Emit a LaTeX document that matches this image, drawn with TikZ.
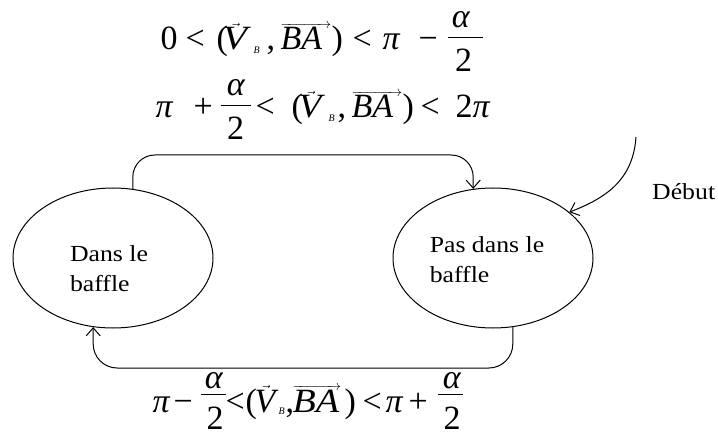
\documentclass[tikz,border=0pt]{standalone}
\usepackage{fontspec}
\setmainfont{Liberation Serif}
\newfontfamily\lblfont[FakeStretch=1.12]{Liberation Serif}
\usetikzlibrary{shapes.geometric,arrows.meta}
\newcommand\eqf{\fontsize{34}{34}\selectfont}
\newcommand\gl[3]{\rlap{\hskip#1pt\raisebox{#2pt}{#3}}}
\newcommand\E[1]{{\eqf #1}}
\newcommand\EI[1]{{\eqf\itshape #1}}
\newcommand\EC[1]{\makebox[0pt]{\eqf #1}}
\newcommand\ECI[1]{\makebox[0pt]{\eqf\itshape #1}}
\newcommand\Vv[1]{{\fontsize{18}{18}\selectfont$\vec{\mbox{\eqf\itshape\scalebox{#1}[1]{V}}}$}}
\newcommand\BAv[2]{{\fontsize{14}{14}\selectfont$\overrightarrow{\mbox{\eqf\itshape\scalebox{#2}[1]{BA}}\kern#1pt}$}}
\newcommand\Bs{{\fontsize{10}{10}\selectfont\itshape B}}
\newcommand\frl[1]{\rule{#1pt}{1.1pt}}
\begin{document}
\begin{tikzpicture}[x=1pt,y=-1pt,
  state/.style={draw, ellipse, line width=1pt, minimum width=200pt, minimum height=140pt, inner sep=0pt},
  lbl/.style={align=left, font=\lblfont\fontsize{23}{30}\selectfont, inner sep=0pt},
  eqn/.style={anchor=base west, inner sep=0pt},
  conn/.style={line width=1pt, -{Straight Barb[length=8pt,width=14pt]}},
]
\useasboundingbox (0,0) rectangle (718,433);
\node[state] (L) at (113,258) {};
\node[state] (R) at (493,258) {};
\node[lbl] (Lt) at (109,269) {Dans le\\baffle};
\node[lbl] (Rt) at (487,260) {Pas dans le\\baffle};
\node[lbl, anchor=base west] (deb) at (652,200) {Début};
% equation 1
\node[eqn] (e1) at (160,50) {%
  \gl{0}{0}{\E{0}}\gl{25}{0}{\E{<}}\gl{56}{0}{\E{(}}\gl{62}{0}{\Vv{1.18}}%
  \gl{93}{-4}{\Bs}\gl{106}{0}{\E{,}}\gl{120}{0}{\BAv{9}{1}}\gl{171}{0}{\E{)}}%
  \gl{192}{0}{\E{<}}\gl{222}{0}{\EI{π}}\gl{258}{0}{\E{−}}%
  \gl{300}{22}{\ECI{α}}\gl{287}{11.7}{\frl{35}}\gl{303}{-22}{\EC{2}}%
  \hskip325pt};
% equation 2
\node[eqn] (e2) at (150,118) {%
  \gl{5}{0}{\EI{π}}\gl{43}{0}{\E{+}}%
  \gl{85}{22}{\ECI{α}}\gl{70}{11.5}{\frl{30}}\gl{85}{-22}{\EC{2}}%
  \gl{105}{0}{\E{<}}\gl{141}{0}{\E{(}}\gl{148}{0}{\Vv{1.1}}\gl{178}{-4}{\Bs}%
  \gl{187}{0}{\E{,}}\gl{201}{0}{\BAv{9}{1}}\gl{252}{0}{\E{)}}\gl{270}{0}{\E{<}}%
  \gl{305}{0}{\E{2}}\gl{322}{0}{\EI{π}}%
  \hskip345pt};
% equation 3
\node[eqn] (e3) at (150,412) {%
  \gl{2}{0}{\EI{π}}\gl{23}{0}{\E{−}}%
  \gl{63}{24}{\ECI{α}}\gl{50}{17}{\frl{25}}\gl{64.5}{-17.5}{\EC{2}}%
  \gl{75}{0}{\E{<}}\gl{95}{0}{\E{(}}\gl{104}{0}{\Vv{1}}\gl{128}{-2}{\Bs}%
  \gl{135}{0}{\E{,}}\gl{142}{0}{\BAv{2}{1.12}}\gl{194}{0}{\E{)}}\gl{212}{0}{\E{<}}%
  \gl{235}{0}{\EI{π}}\gl{258}{0}{\E{+}}%
  \gl{301}{24}{\ECI{α}}\gl{287}{17}{\frl{25}}\gl{301.5}{-17.5}{\EC{2}}%
  \hskip315pt};
\coordinate (topy) at (0,155);
\coordinate (boty) at (0,368);
\coordinate (ds) at (636,137);
\draw[conn, rounded corners=22pt] (L.74) -- (L.74 |- topy) -- (R.106 |- topy) -- (R.106);
\draw[conn, rounded corners=24pt] (R.-74) -- (R.-74 |- boty) -- (L.-106 |- boty) -- (L.-106);
\draw[conn] (ds) .. controls (633,180) and (606,198) .. (R.31);
\end{tikzpicture}
\end{document}
